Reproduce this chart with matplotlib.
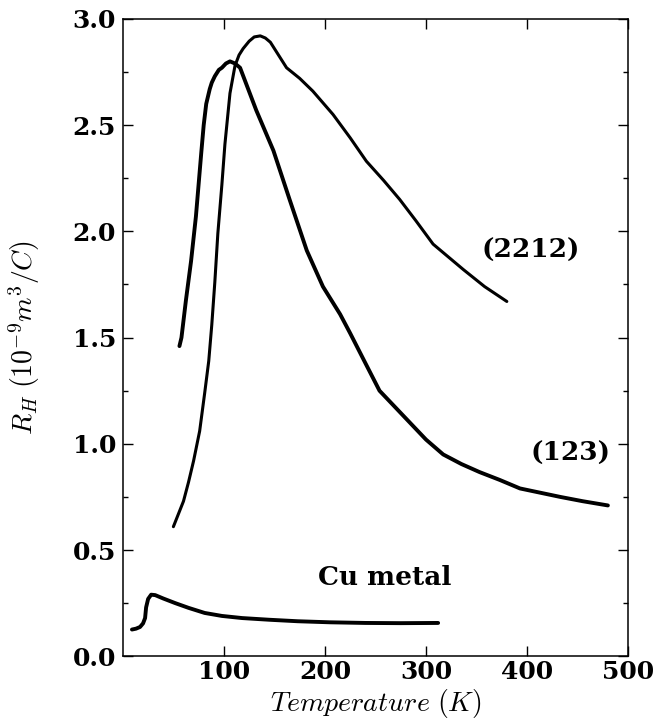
import matplotlib
matplotlib.use('Agg')
import matplotlib.pyplot as plt
from matplotlib.ticker import MultipleLocator

plt.rcParams['mathtext.fontset'] = 'cm'
plt.rcParams['axes.unicode_minus'] = False

# (2212) sample
t_2212 = [50, 55, 60, 65, 70, 76, 81, 85, 88, 91, 94, 98, 101, 106, 111, 115,
          119, 125, 130, 136, 141, 146, 154, 162, 175, 188, 208, 225, 241,
          258, 274, 290, 307, 322, 337, 358, 380]
rh_2212 = [0.61, 0.67, 0.73, 0.82, 0.92, 1.06, 1.24, 1.39, 1.56, 1.76, 1.99,
           2.22, 2.41, 2.65, 2.78, 2.83, 2.86, 2.895, 2.915, 2.92, 2.91, 2.89,
           2.83, 2.77, 2.72, 2.66, 2.55, 2.44, 2.33, 2.24, 2.15, 2.05, 1.94,
           1.88, 1.82, 1.74, 1.67]

# (123) sample
t_123 = [56, 58, 62.4, 67.5, 72.3, 77.6, 80, 82.5, 86, 88, 91, 95, 98, 102,
         106, 111, 116, 124, 132, 149, 165, 182, 198, 215, 225, 240, 254, 270,
         284, 300, 317, 335, 353, 373, 393, 413, 433, 455, 480]
rh_123 = [1.46, 1.50, 1.675, 1.86, 2.07, 2.37, 2.50, 2.60, 2.67, 2.70, 2.73,
          2.76, 2.77, 2.79, 2.80, 2.79, 2.77, 2.67, 2.57, 2.38, 2.15, 1.91,
          1.74, 1.61, 1.52, 1.38, 1.25, 1.17, 1.10, 1.02, 0.95, 0.905, 0.867,
          0.83, 0.79, 0.77, 0.75, 0.73, 0.71]

# Cu metal
t_cu = [9, 13, 17, 20, 22, 23, 25, 28, 32, 40, 52, 65, 81, 98, 118, 145, 173,
        205, 240, 275, 312]
rh_cu = [0.126, 0.130, 0.138, 0.155, 0.18, 0.23, 0.27, 0.29, 0.288, 0.272,
         0.25, 0.228, 0.204, 0.19, 0.18, 0.172, 0.165, 0.16, 0.157, 0.156, 0.157]

fig = plt.figure(figsize=(6.57, 7.26), dpi=100)
ax = fig.add_axes([0.187, 0.096, 0.769, 0.878])

ax.plot(t_2212, rh_2212, color='black', lw=2.2, solid_capstyle='round',
        solid_joinstyle='round')
ax.plot(t_123, rh_123, color='black', lw=2.8, solid_capstyle='round',
        solid_joinstyle='round')
ax.plot(t_cu, rh_cu, color='black', lw=2.8, solid_capstyle='round',
        solid_joinstyle='round')

lab = dict(family='DejaVu Serif', weight='bold', fontsize=19, ha='center', va='center')
ax.text(404, 1.91, '(2212)', **lab)
ax.text(443, 0.955, '(123)', **lab)
ax.text(259, 0.372, 'Cu metal', **lab)

ax.set_xlim(0, 500)
ax.set_ylim(0, 3.0)
ax.set_xticks([100, 200, 300, 400, 500])
ax.set_yticks([0.0, 0.5, 1.0, 1.5, 2.0, 2.5, 3.0])
ax.set_yticklabels(['0.0', '0.5', '1.0', '1.5', '2.0', '2.5', '3.0'])
ax.yaxis.set_minor_locator(MultipleLocator(0.25))
ax.tick_params(which='both', direction='in', top=True, right=True, width=1.0)
ax.tick_params(which='major', length=7)
ax.tick_params(which='minor', length=3.5)
ax.tick_params(axis='x', pad=3)
ax.tick_params(axis='y', pad=5)
for t in ax.get_xticklabels() + ax.get_yticklabels():
    t.set_family('DejaVu Serif')
    t.set_weight('bold')
    t.set_fontsize(18)
for s in ax.spines.values():
    s.set_linewidth(1.1)

ax.set_xlabel(r'$Temperature\ (K)$', fontsize=20, labelpad=2)
ax.set_ylabel(r'$R_H\ (10^{-9}m^3/C)$', fontsize=20)
ax.yaxis.set_label_coords(-0.16, 0.5)

fig.savefig('out.png', dpi=100)
